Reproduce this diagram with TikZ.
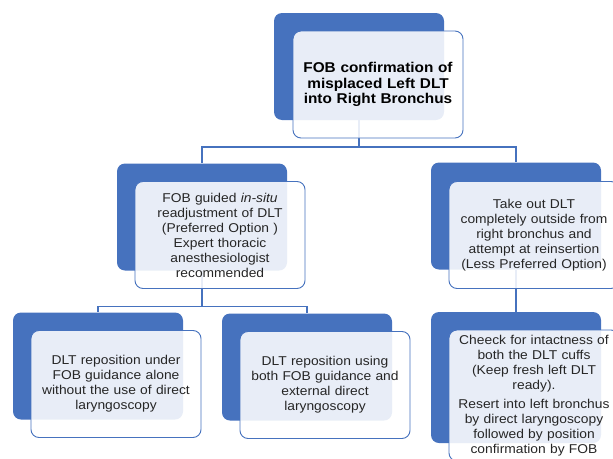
\documentclass[tikz,border=0pt]{standalone}
\usepackage{fontspec}
\setmainfont{Liberation Sans}[FakeStretch=1.08]
\definecolor{sablue}{RGB}{70,114,190}
\definecolor{txt}{RGB}{38,38,38}
\begin{document}
\begin{tikzpicture}[x=1pt,y=-1pt,
  backbox/.style={fill=sablue,rounded corners=8pt,minimum width=170pt,minimum height=107pt,inner sep=0pt},
  frontbox/.style={draw=sablue,line width=0.9pt,fill=white,fill opacity=0.88,text opacity=1,rounded corners=8pt,minimum width=170pt,minimum height=107pt,inner sep=0pt,align=center,text width=166pt,text=txt,font=\fontsize{12.8}{15}\selectfont},
  conn/.style={draw=sablue,line width=1.1pt}]
\useasboundingbox (0,0) rectangle (613,458);
% back boxes
\node[backbox] (b1) at (359,66.5) {};
\node[backbox] (b2) at (202,217) {};
\node[backbox] (b3) at (516,216) {};
\node[backbox] (b4) at (98,366) {};
\node[backbox] (b5) at (307,367) {};
\node[backbox,minimum height=131pt] (b6) at (516,377.5) {};
% connectors
\coordinate (j1) at (359,147);
\coordinate (j2) at (202,306.5);
\draw[conn] (b1.south) -- (j1);
\draw[conn] (j1) -| (b2.north);
\draw[conn] (j1) -| (b3.north);
\draw[conn] (b2.south) -- (j2);
\draw[conn] (j2) -| (b4.north);
\draw[conn] (j2) -| (b5.north);
\draw[conn] (b3.south) -- (b6.north);
% front boxes
\node[frontbox,font=\fontsize{14.2}{15.5}\selectfont\bfseries,text=black] (f1) at (378,84.5) {FOB confirmation of\\misplaced Left DLT\\into Right Bronchus};
\node[frontbox] (f2) at (220,235) {FOB guided \textit{in-situ}\\readjustment of DLT\\(Preferred Option )\\Expert thoracic\\anesthesiologist\\recommended};
\node[frontbox] (f3) at (534,235) {Take out DLT\\completely outside from\\right bronchus and\\attempt at reinsertion\\(Less Preferred Option)};
\node[frontbox] (f4) at (116,384) {DLT reposition under\\FOB guidance alone\\without the use of direct\\laryngoscopy};
\node[frontbox] (f5) at (325,385) {DLT reposition using\\both FOB guidance and\\external direct\\laryngoscopy};
\node[frontbox,minimum height=131pt] (f6) at (534,395.5) {Cheeck for intactness of\\both the DLT cuffs\\(Keep fresh left DLT\\ready).\\[4pt]Resert into left bronchus\\by direct laryngoscopy\\followed by position\\confirmation by FOB};
\end{tikzpicture}
\end{document}
